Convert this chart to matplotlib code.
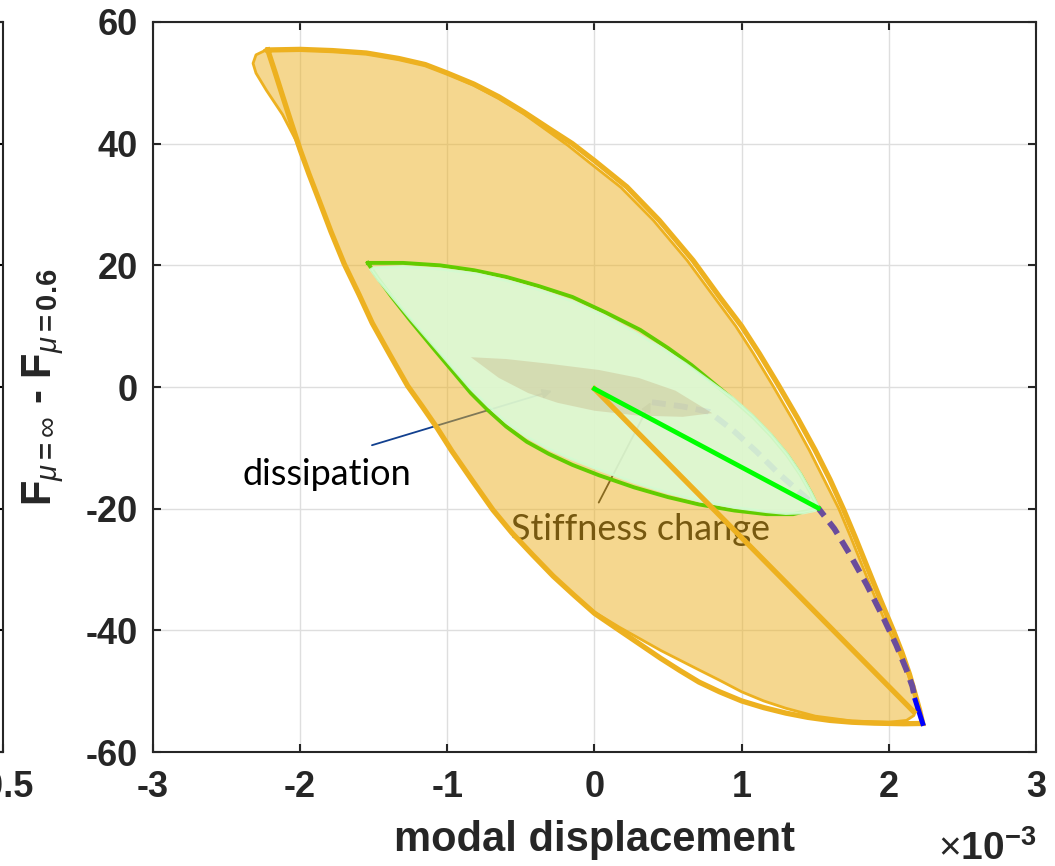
import numpy as np
import matplotlib.pyplot as plt

plt.rcParams['font.family'] = 'Liberation Sans'
plt.rcParams['mathtext.fontset'] = 'custom'
plt.rcParams['mathtext.rm'] = 'Liberation Sans'
plt.rcParams['mathtext.bf'] = 'Liberation Sans:bold'
plt.rcParams['mathtext.it'] = 'Liberation Sans:italic'

ORANGE = '#EDB120'

# modal displacement in units of 1e-3, force difference
# thick outer loop (line only)
loop_a_x = [-2.22, -2.0, -1.78, -1.55, -1.33, -1.15, -1.0, -0.82, -0.65, -0.48, -0.31, -0.15,
            0.0, 0.22, 0.44, 0.67, 0.85, 1.0, 1.12, 1.25, 1.38, 1.5, 1.6, 1.69, 1.77, 1.85,
            1.94, 2.03, 2.09, 2.14, 2.18, 2.21, 2.23,
            2.1, 1.9, 1.75, 1.6, 1.45, 1.3, 1.15, 1.0, 0.85, 0.71, 0.58, 0.45, 0.31, 0.17,
            0.0, -0.14, -0.28, -0.42, -0.56, -0.69, -0.83, -0.97, -1.07, -1.17, -1.27, -1.39,
            -1.51, -1.60, -1.70, -1.79, -1.87, -1.94, -2.0, -2.06, -2.12, -2.17, -2.22]
loop_a_y = [55.4, 55.5, 55.3, 54.9, 54.0, 53.0, 51.6, 49.8, 47.7, 45.2, 42.5, 40.0,
            37.2, 32.9, 27.4, 20.8, 14.8, 10.0, 5.5, 0.3, -5.1, -10.4, -15.2, -20.0, -24.6, -29.4,
            -34.8, -40.0, -43.7, -47.2, -50.6, -53.2, -55.3,
            -55.35, -55.25, -55.1, -54.8, -54.3, -53.6, -52.7, -51.6, -50.1, -48.5, -46.6, -44.6, -42.3, -40.0,
            -37.2, -34.2, -31.1, -27.6, -24.0, -20.2, -15.4, -10.5, -6.7, -3.2, 0.2, 5.3,
            10.5, 15.2, 20.2, 25.5, 30.6, 35.0, 39.0, 43.4, 47.9, 51.7, 55.4]

# filled loop with thin edge
loop_b_x = [-2.24, -2.0, -1.78, -1.55, -1.33, -1.15, -1.0, -0.82, -0.65, -0.48, -0.33, -0.18,
            -0.04, 0.18, 0.40, 0.63, 0.81, 0.96, 1.08, 1.21, 1.34, 1.46, 1.56, 1.66, 1.74, 1.82,
            1.91, 2.0, 2.07, 2.13, 2.18, 2.19, 2.17, 2.12, 2.0,
            1.75, 1.5, 1.3, 1.15, 1.0, 0.85, 0.71, 0.58, 0.45, 0.31, 0.17,
            0.0, -0.14, -0.28, -0.42, -0.56, -0.69, -0.83, -0.97, -1.07, -1.17, -1.27, -1.39,
            -1.51, -1.60, -1.70, -1.79, -1.87, -1.94, -2.03, -2.12, -2.23, -2.30, -2.32, -2.30, -2.24]
loop_b_y = [55.3, 55.4, 55.2, 54.8, 53.9, 52.9, 51.5, 49.6, 47.4, 44.9, 42.3, 39.7,
            37.0, 32.8, 27.4, 20.8, 14.9, 10.0, 5.5, 0.3, -5.1, -10.4, -15.2, -20.0, -24.6, -29.4,
            -34.8, -40.0, -43.7, -47.2, -50.6, -52.6, -54.0, -54.8, -55.1,
            -54.9, -54.1, -52.8, -51.6, -50.1, -48.2, -46.5, -44.9, -43.3, -41.4, -39.5,
            -37.0, -34.2, -31.1, -27.6, -24.0, -20.2, -15.4, -10.5, -6.7, -3.2, 0.2, 5.3,
            10.5, 15.2, 20.2, 25.5, 30.6, 35.0, 40.6, 44.8, 48.8, 51.6, 53.2, 54.6, 55.3]

# initial loading line
load_x = [0.0, 2.17]
load_y = [-0.3, -53.4]

# green loop outline
green_a_x = [-1.54, -1.3, -1.05, -0.82, -0.6, -0.38, -0.15, 0.08, 0.31, 0.5, 0.66, 0.8, 0.94,
             1.08, 1.2, 1.31, 1.40, 1.47, 1.52,
             1.35, 1.17, 0.95, 0.71, 0.5, 0.27, 0.03, -0.15, -0.31, -0.46, -0.60, -0.72,
             -0.84, -0.94, -1.10, -1.25, -1.38, -1.48, -1.54]
green_a_y = [20.4, 20.4, 20.0, 19.2, 18.1, 16.6, 14.8, 12.2, 9.4, 6.4, 3.6, 0.8, -2.0,
             -5.0, -8.0, -11.2, -14.4, -17.4, -19.9,
             -20.9, -20.9, -20.3, -19.3, -18.1, -16.5, -14.5, -12.8, -11.0, -9.0, -6.5, -3.9,
             -1.0, 1.9, 6.5, 10.9, 14.9, 18.2, 20.4]

# green filled loop
green_b_x = [-1.50, -1.3, -1.05, -0.8, -0.6, -0.38, -0.15, 0.06, 0.26, 0.45, 0.62, 0.78, 0.94,
             1.08, 1.2, 1.31, 1.40, 1.47, 1.52, 1.50, 1.42,
             1.3, 1.17, 0.95, 0.71, 0.5, 0.27, 0.03, -0.15, -0.31, -0.46, -0.60, -0.72,
             -0.84, -0.94, -1.10, -1.25, -1.38, -1.47, -1.52, -1.50]
green_b_y = [19.6, 19.8, 19.4, 18.6, 17.5, 16.0, 14.1, 11.8, 9.2, 6.5, 3.8, 1.0, -1.8,
             -4.8, -7.8, -11.0, -14.2, -17.2, -19.6, -20.3, -20.7,
             -20.8, -20.5, -19.8, -18.7, -17.4, -15.7, -13.6, -11.9, -10.2, -8.2, -5.8, -3.2,
             -0.3, 2.5, 7.0, 11.2, 15.0, 17.6, 19.3, 19.6]

# small dissipation loop
small_x = [-0.84, -0.6, -0.3, 0.03, 0.3, 0.55, 0.8, 0.6, 0.3, 0.0, -0.25, -0.45, -0.65, -0.84]
small_y = [4.9, 4.6, 3.8, 2.8, 1.5, -0.6, -4.3, -4.9, -4.7, -3.9, -2.6, -1.0, 1.5, 4.9]

# unloading path (dashed)
dash_x = [0.39, 0.6, 0.78, 0.95, 1.1, 1.25, 1.4, 1.52, 1.63, 1.73, 1.85, 1.96, 2.05, 2.12, 2.16, 2.18]
dash_y = [-2.5, -3.2, -4.1, -7.3, -10.6, -14.2, -17.4, -19.9, -23.3, -27.3, -32.5, -37.8, -42.4,
          -46.5, -49.2, -51.5]

# straight green path
stiff_x = [0.0, 1.52]
stiff_y = [-0.3, -19.9]

tip_x = [2.18, 2.23]
tip_y = [-51.5, -55.3]

xticks = [-3, -2, -1, 0, 1, 2, 3]
yticks = [-60, -40, -20, 0, 20, 40, 60]

fig = plt.figure(figsize=(10.55, 8.66), dpi=100)

# neighbouring subplot, only its right edge is visible
ax0 = fig.add_axes([0.0028 - 0.3, 0.1316, 0.3, 0.8430])
ax0.set_xlim(-3.5, -0.5)
ax0.set_ylim(-60, 60)
ax0.set_xticks([-0.5])
ax0.set_xticklabels(['-0.5'], fontsize=26, fontweight='bold', color='#262626')
ax0.set_yticks(yticks)
ax0.set_yticklabels([])
ax0.tick_params(direction='in', length=6, width=1.5, right=True, pad=13)
for s in ax0.spines.values():
    s.set_linewidth(1.5)
    s.set_color('#262626')

ax = fig.add_axes([0.1450, 0.1316, 0.8370, 0.8430])
ax.set_axisbelow(True)
ax.grid(True, color='#DEDEDE', lw=1.0)

# annotations sit below the translucent patches
ax.annotate('', xy=(-0.27, -0.5), xytext=(-1.53, -9.7),
            arrowprops=dict(arrowstyle='-|>', color='#12408F', lw=1.3, mutation_scale=14),
            zorder=1)
ax.text(-1.82, -14.3, 'dissipation', fontsize=26, family='Lato', ha='center', va='center',
        color='black', zorder=1)
ax.annotate('', xy=(0.39, -2.1), xytext=(0.02, -19.4),
            arrowprops=dict(arrowstyle='-|>', color='#222222', lw=1.3, mutation_scale=14),
            zorder=1)
ax.text(0.31, -23.4, 'Stiffness change', fontsize=26, family='Lato', ha='center', va='center',
        color='black', zorder=1)

ax.fill(loop_b_x, loop_b_y, facecolor=ORANGE, alpha=0.5, edgecolor='none', zorder=2)
ax.plot(loop_b_x, loop_b_y, color=ORANGE, lw=2.0, zorder=3)
ax.plot(loop_a_x, loop_a_y, color=ORANGE, lw=3.8, solid_joinstyle='miter', zorder=3)
ax.plot(dash_x, dash_y, color='#6A4C9C', lw=4.2, ls=(0, (2.4, 1.4)), zorder=4)
ax.plot(tip_x, tip_y, color='#0000FF', lw=3.6, zorder=4)
ax.plot(green_a_x, green_a_y, color='#62CC00', lw=2.8, zorder=5)
ax.fill(green_b_x, green_b_y, facecolor='#DCFAD7', alpha=0.9, edgecolor='#D2FBD2', lw=2.0, zorder=6)
ax.fill(small_x, small_y, facecolor='#C0A070', alpha=0.3, edgecolor='none', zorder=7)
ax.plot(load_x, load_y, color=ORANGE, lw=3.8, zorder=8)
ax.plot(stiff_x, stiff_y, color='#00FF00', lw=3.4, zorder=9)

ax.set_xlim(-3, 3)
ax.set_ylim(-60, 60)
ax.set_xticks(xticks)
ax.set_xticklabels([str(t) for t in xticks], fontsize=26, fontweight='bold')
ax.set_yticks(yticks)
ax.set_yticklabels([str(t) for t in yticks], fontsize=26, fontweight='bold')
ax.tick_params(direction='in', length=6, width=1.5, top=True, right=True, colors='#262626')
ax.tick_params(axis='x', pad=13)
ax.tick_params(axis='y', pad=11)
for s in ax.spines.values():
    s.set_linewidth(1.5)
    s.set_color('#262626')

ax.set_xlabel('modal displacement', fontsize=30, fontweight='bold', color='#262626', labelpad=11)
ax.set_ylabel(r'$\mathbf{F}_{\mu\mathbf{=}\infty}$ - $\mathbf{F}_{\mu\mathbf{=0.6}}$',
              fontsize=30, fontweight='bold', color='#262626', labelpad=13)
fig.text(1036 / 1055, 1 - 860 / 866, r'$\times\mathbf{10^{-3}}$', fontsize=28,
         ha='right', va='baseline', color='#262626')

fig.savefig('out.png', dpi=100)
